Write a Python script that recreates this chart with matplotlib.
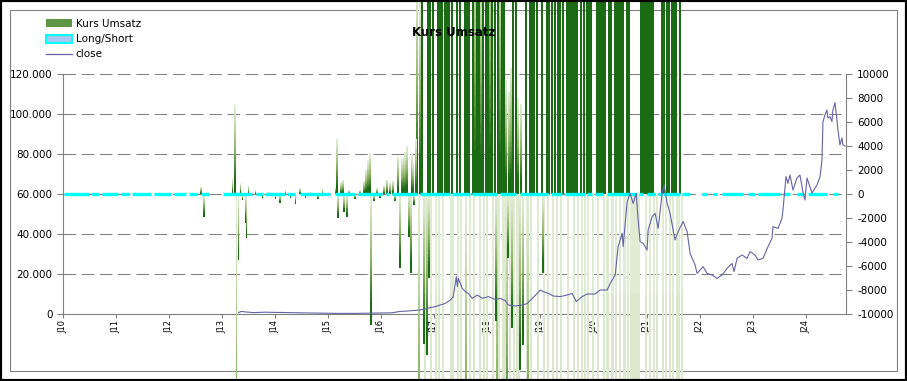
import matplotlib.pyplot as plt
import numpy as np
from matplotlib.colors import LinearSegmentedColormap
from matplotlib.patches import Patch, Rectangle
from matplotlib.lines import Line2D

plt.rcParams['axes.unicode_minus'] = False

# Kurs Umsatz (rechte Achse), Jahr als Dezimalzahl
umsatz_jahr = [
    2012.593, 2012.650, 2013.196, 2013.233, 2013.252, 2013.271, 2013.309, 2013.346, 2013.384, 2013.440,
    2013.459, 2013.497, 2013.629, 2013.761, 2013.874, 2014.006, 2014.099, 2014.194, 2014.288, 2014.382,
    2014.476, 2014.571, 2014.665, 2014.815, 2014.891, 2015.136, 2015.173, 2015.192, 2015.249, 2015.286,
    2015.305, 2015.362, 2015.399, 2015.512, 2015.606, 2015.682, 2015.720, 2015.757, 2015.795, 2015.814,
    2015.870, 2015.926, 2015.983, 2016.059, 2016.115, 2016.171, 2016.228, 2016.266, 2016.322, 2016.360,
    2016.397, 2016.435, 2016.454, 2016.491, 2016.529, 2016.567, 2016.586, 2016.604, 2016.623, 2016.661,
    2016.680, 2016.717, 2016.736, 2016.774, 2016.812, 2016.830, 2016.868, 2016.887, 2016.906, 2016.925,
    2016.943, 2016.981, 2017.038, 2017.076, 2017.094, 2017.113, 2017.151, 2017.170, 2017.207, 2017.245,
    2017.283, 2017.320, 2017.339, 2017.358, 2017.433, 2017.452, 2017.490, 2017.509, 2017.584, 2017.603,
    2017.622, 2017.660, 2017.678, 2017.735, 2017.754, 2017.773, 2017.810, 2017.848, 2017.866, 2017.885,
    2017.923, 2017.942, 2017.979, 2017.998, 2018.017, 2018.055, 2018.093, 2018.111, 2018.149, 2018.168,
    2018.186, 2018.205, 2018.224, 2018.243, 2018.281, 2018.299, 2018.318, 2018.337, 2018.356, 2018.375,
    2018.394, 2018.413, 2018.431, 2018.450, 2018.469, 2018.488, 2018.507, 2018.544, 2018.563, 2018.582,
    2018.601, 2018.620, 2018.639, 2018.677, 2018.733, 2018.752, 2018.771, 2018.808, 2018.827, 2018.846,
    2018.884, 2018.940, 2018.959, 2019.034, 2019.053, 2019.072, 2019.128, 2019.147, 2019.166, 2019.222,
    2019.241, 2019.279, 2019.316, 2019.335, 2019.373, 2019.392, 2019.429, 2019.505, 2019.524, 2019.543,
    2019.580, 2019.618, 2019.637, 2019.655, 2019.693, 2019.712, 2019.768, 2019.787, 2019.825, 2019.844,
    2019.881, 2019.900, 2019.919, 2019.957, 2019.994, 2020.070, 2020.088, 2020.107, 2020.145, 2020.183,
    2020.201, 2020.220, 2020.258, 2020.277, 2020.296, 2020.334, 2020.352, 2020.371, 2020.409, 2020.428,
    2020.446, 2020.484, 2020.503, 2020.522, 2020.559, 2020.578, 2020.597, 2020.635, 2020.654, 2020.672,
    2020.710, 2020.748, 2020.786, 2020.823, 2020.861, 2020.898, 2020.936, 2020.974, 2020.993, 2021.011,
    2021.049, 2021.068, 2021.087, 2021.124, 2021.143, 2021.200, 2021.294, 2021.313, 2021.331, 2021.369,
    2021.388, 2021.425, 2021.444, 2021.482, 2021.500, 2021.519, 2021.557, 2021.576, 2021.614, 2021.633,
    2021.670,
]
umsatz_wert = [
    600, -1900, 1300, 7500, 7300, -31000, -5500, 900, -500, -2400,
    -3700, 700, 300, -300, 200, -400, -750, 300, -300, -800,
    500, -300, 200, -400, 400, 600, 4600, -2000, 1000, 1200,
    -1500, -1900, 300, -400, 300, 1100, 2000, 2800, 3400, -10900,
    -600, 500, -300, 700, 1200, 900, 1100, -600, 3100, -6200,
    2900, 3100, 3500, 4000, -3600, -6600, 3300, 2600, -900, 4600,
    18000, -30000, 16500, 200000, -12500, -200000, -13400, 200000, -7000, 200000,
    -200000, 200000, -200000, 200000, -200000, 200000, 200000, -200000, 200000, 200000,
    200000, -200000, 200000, -200000, 200000, -200000, 200000, -200000, 200000, -30000,
    200000, 200000, -200000, 200000, -200000, 22000, 200000, 200000, -200000, 20000,
    200000, -200000, 200000, -200000, 200000, 24000, 200000, -200000, 200000, -10600,
    -30000, 200000, -200000, 21000, 200000, -200000, 200000, -200000, 9500, -25000,
    -5300, 8500, -200000, 10500, -11200, 200000, -200000, 200000, -200000, 8000,
    -200000, -14700, 7500, -12600, 200000, -200000, -30000, 200000, -200000, 200000,
    200000, 200000, -200000, 200000, -6600, -200000, 200000, -200000, 200000, 200000,
    -200000, 200000, -200000, 200000, 200000, -200000, 200000, 200000, -200000, 200000,
    200000, 200000, -200000, 200000, 200000, -200000, 200000, -200000, 200000, -200000,
    200000, -200000, 200000, 200000, -200000, 200000, -200000, 200000, 200000, 200000,
    -200000, 200000, -200000, -200000, 200000, 200000, -200000, -200000, 200000, -200000,
    200000, 200000, -200000, 200000, 200000, -200000, -200000, 200000, -200000, 200000,
    -200000, -200000, -200000, -200000, -200000, 200000, 200000, 200000, -200000, 200000,
    200000, -200000, 200000, 200000, -200000, -200000, 200000, -200000, 200000, -200000,
    200000, 200000, -200000, 200000, -200000, 200000, 200000, -200000, -200000, 200000,
    -200000,
]

# Long/Short Zeitraeume (Wert 0 auf der rechten Achse)
ls_von = [2010.013, 2010.522, 2010.729, 2011.087, 2011.294, 2011.708, 2012.085, 2012.367, 2012.593,
          2013.007, 2013.629, 2013.817, 2014.231, 2014.476, 2015.136, 2015.569, 2016.096, 2016.209,
          2016.736, 2017.339, 2017.716, 2018.244, 2018.621, 2019.206, 2019.470, 2019.885, 2020.036,
          2020.262, 2020.865, 2021.016, 2021.223, 2021.317, 2021.676, 2022.047, 2022.254, 2022.423,
          2022.913, 2023.101, 2023.572, 2023.836, 2024.043, 2024.514]
ls_bis = [2010.484, 2010.672, 2011.030, 2011.237, 2011.652, 2012.028, 2012.311, 2012.518, 2012.744,
          2013.572, 2013.761, 2014.194, 2014.382, 2015.041, 2015.512, 2016.021, 2016.153, 2016.680,
          2017.302, 2017.679, 2018.188, 2018.546, 2019.149, 2019.413, 2019.847, 2019.979, 2020.186,
          2020.827, 2020.940, 2021.166, 2021.298, 2021.638, 2021.827, 2022.141, 2022.329, 2022.819,
          2023.045, 2023.516, 2023.704, 2023.949, 2024.401, 2024.608]

# close (linke Achse)
close_jahr = [
    2013.309, 2013.360, 2013.450, 2013.600, 2013.800, 2014.000, 2014.300, 2014.600, 2014.900, 2015.200,
    2015.500, 2015.800, 2016.000, 2016.200, 2016.360, 2016.500, 2016.720, 2016.793, 2016.925, 2017.019,
    2017.113, 2017.207, 2017.301, 2017.358, 2017.414, 2017.433, 2017.452, 2017.490, 2017.528, 2017.584,
    2017.641, 2017.716, 2017.810, 2017.904, 2018.017, 2018.149, 2018.243, 2018.337, 2018.394, 2018.526,
    2018.677, 2018.752, 2018.846, 2018.940, 2018.996, 2019.053, 2019.147, 2019.241, 2019.373, 2019.505,
    2019.599, 2019.674, 2019.787, 2019.881, 2020.032, 2020.126, 2020.258, 2020.315, 2020.409, 2020.465,
    2020.541, 2020.559, 2020.635, 2020.691, 2020.748, 2020.805, 2020.842, 2020.879, 2020.936, 2021.011,
    2021.030, 2021.106, 2021.162, 2021.219, 2021.294, 2021.331, 2021.388, 2021.444, 2021.501, 2021.538,
    2021.595, 2021.689, 2021.765, 2021.821, 2021.915, 2021.953, 2022.009, 2022.066, 2022.141, 2022.235,
    2022.329, 2022.424, 2022.518, 2022.612, 2022.650, 2022.706, 2022.800, 2022.895, 2022.951, 2023.045,
    2023.101, 2023.195, 2023.290, 2023.365, 2023.384, 2023.478, 2023.553, 2023.572, 2023.629, 2023.666,
    2023.704, 2023.761, 2023.836, 2023.892, 2023.949, 2023.987, 2024.025, 2024.119, 2024.213, 2024.270,
    2024.307, 2024.326, 2024.364, 2024.401, 2024.420, 2024.458, 2024.495, 2024.514, 2024.552, 2024.590,
    2024.608, 2024.646, 2024.684, 2024.703, 2024.740,
]
close_wert = [
    700, 1300, 1000, 700, 900, 800, 600, 500, 400, 300,
    300, 400, 500, 600, 1300, 1500, 2000, 2300, 3200, 3700,
    4500, 5300, 7000, 8700, 18700, 13700, 17800, 15300, 12800, 11200,
    10300, 7800, 9500, 7800, 8700, 7300, 7800, 6700, 4500, 4000,
    4500, 5300, 7800, 10300, 12000, 11200, 10300, 9000, 8700, 9500,
    10300, 6200, 8700, 10000, 10000, 12000, 12000, 15300, 19500, 33700,
    40300, 33700, 56200, 60300, 55300, 60300, 47000, 36200, 35300, 32000,
    42000, 48700, 50300, 42800, 60300, 64500, 55300, 50300, 42000, 37000,
    41200, 46200, 41200, 30300, 24500, 20300, 22000, 23700, 20300, 19500,
    17800, 19500, 22800, 25300, 21200, 27800, 29500, 27800, 31200, 29500,
    27000, 27800, 33700, 37800, 43700, 42800, 47800, 52000, 68700, 65300,
    69500, 62000, 68000, 69500, 61000, 57000, 68000, 60500, 64500, 68500,
    77000, 96200, 99500, 102000, 98000, 98700, 96200, 102000, 105700, 97000,
    92000, 84500, 88000, 84500, 84000,
]

jahre = list(range(2010, 2025))
jahr_labels = ['J%02d' % (j % 100) for j in jahre]


def main():
    fig = plt.figure(figsize=(9.07, 3.81), dpi=100)
    ax = fig.add_axes([63/907, 1-314/381, 783/907, 240/381])
    ax2 = ax.twinx()

    grau = '#808080'

    # Balken mit Verlauf: oben hell, unten dunkel
    cmap = LinearSegmentedColormap.from_list('umsatz', [(0, '#e2ecd6'), (0.12, '#d6e5c6'), (0.5, '#8cb464'),
                                                        (0.85, '#1b6b14'), (1, '#1b6b14')])
    x = np.array(umsatz_jahr)
    v = np.array(umsatz_wert, dtype=float)
    n = 24
    for k in range(n):
        frac = (k + 0.5) / n
        t = np.where(v > 0, 1 - frac, frac)
        bars = ax2.bar(x, v / n, bottom=v * k / n, width=0.036, color=cmap(t), linewidth=0, zorder=2)
        for b in bars:
            b.set_clip_on(False)

    ax2.hlines(np.zeros(len(ls_von)), ls_von, ls_bis, colors='#00ffff', linewidth=2.4, zorder=3)

    # close gehoert zur linken Achse, wird aber ueber die Balken gezeichnet
    ax2.plot(close_jahr, close_wert, color='#6464a4', linewidth=0.8, zorder=4, transform=ax.transData)

    ax.set_xlim(2010, 2024.76)
    ax.set_ylim(0, 120000)
    ax2.set_ylim(-10000, 10000)

    ax.set_yticks(range(0, 120001, 20000))
    ax.set_yticklabels(['{:,}'.format(t).replace(',', '.') for t in range(0, 120001, 20000)])
    ax2.set_yticks(range(-10000, 10001, 2000))
    ax.set_xticks(jahre)
    ax.set_xticklabels(jahr_labels, rotation=90, fontsize=6)

    ax.yaxis.grid(True, color=grau, linewidth=0.75, linestyle=(0, (12, 5.5)))
    ax.set_axisbelow(True)

    for s in ['top', 'right']:
        ax.spines[s].set_visible(False)
    for s in ['top', 'left', 'bottom']:
        ax2.spines[s].set_visible(False)
    for s in ['left', 'bottom']:
        ax.spines[s].set_color(grau)
    ax2.spines['right'].set_color(grau)

    ax.tick_params(axis='y', direction='out', length=4, color=grau, labelsize=7.5, pad=3.5)
    ax.tick_params(axis='x', direction='out', length=3, color=grau, pad=1.5)
    ax2.tick_params(axis='y', direction='out', length=4, color=grau, labelsize=7.5, pad=4)

    fig.text(454/907, 1-32/381, 'Kurs Umsatz', ha='center', va='center', fontsize=8.5, fontweight='bold')

    handles = [Patch(facecolor='#5f9646', edgecolor='none'),
               Patch(facecolor='#a9c7f5', edgecolor='#00ffff', linewidth=1.5),
               Line2D([0], [0], color='#6464a4', linewidth=0.9)]
    fig.legend(handles, ['Kurs Umsatz', 'Long/Short', 'close'], loc='upper left',
               bbox_to_anchor=(46/907, 1-19/381), frameon=False, fontsize=7.5, handlelength=2.5,
               handleheight=0.8, labelspacing=0.5, handletextpad=0.35, borderpad=0, borderaxespad=0)

    # Rahmen
    fig.add_artist(Rectangle((10/907, 10/381), 887/907, 361/381, transform=fig.transFigure,
                             fill=False, edgecolor=grau, linewidth=0.8, zorder=-1))
    fig.add_artist(Rectangle((0, 0), 1, 1, transform=fig.transFigure,
                             fill=False, edgecolor='black', linewidth=3, zorder=10))

    plt.savefig('out.png', dpi=100)


main()
